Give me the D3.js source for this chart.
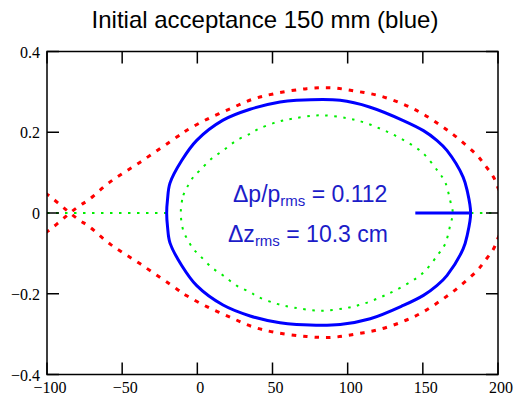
<!DOCTYPE html>
<html>
<head>
<meta charset="utf-8">
<script src="https://cdn.jsdelivr.net/npm/d3@7"></script>
<style>
  body { margin: 0; background: #fff; }
  svg { display: block; }
</style>
</head>
<body>
<script>
// values (z in mm, dp/p)
const xTicks = [-100, -50, 0, 50, 100, 150, 200];
const yTicks = [-0.4, -0.2, 0, 0.2, 0.4];

const blueUpper = [[-20.4, 0], [-19.8, 0.035], [-18.2, 0.074], [-10.4, 0.130], [-0.4, 0.180], [17.1, 0.230], [35.1, 0.257],
  [55, 0.275], [66, 0.279], [95, 0.279], [115, 0.262], [137, 0.229], [150.4, 0.204], [159.3, 0.180],
  [166, 0.155], [176.8, 0.089], [179.7, 0.052], [181.8, 0]];
const blueLower = [[181.8, 0], [179.7, -0.052], [176.8, -0.089], [166, -0.155], [159.3, -0.180], [150.4, -0.204],
  [137, -0.229], [115, -0.262], [95, -0.276], [66, -0.276], [55, -0.272], [35.1, -0.255], [17.1, -0.228],
  [-0.4, -0.180], [-10.4, -0.130], [-18.2, -0.074], [-19.8, -0.035]];
const blueTail = [[145, 0], [181, 0]];

const redUpper = [[-101, -0.049], [-96.9, -0.038], [-90.5, -0.018], [-84.7, 0], [-78, 0.019], [-72.5, 0.032],
  [-58, 0.077], [-38, 0.126], [-13.7, 0.188], [-7, 0.205], [6.3, 0.232], [21.8, 0.258], [36.2, 0.281],
  [50.6, 0.295], [72.8, 0.308], [89.4, 0.310], [105, 0.302], [120.4, 0.291], [136, 0.271], [149.3, 0.247],
  [162.6, 0.215], [173.7, 0.184], [186, 0.143], [191.4, 0.118], [197, 0.089], [200.3, 0.060], [204, 0.030]];
const redLower = [[-101, 0.049], [-96.9, 0.038], [-90.5, 0.018], [-84.7, 0], [-78, -0.019], [-72.5, -0.032],
  [-58, -0.077], [-38, -0.126], [-13.7, -0.188], [-7, -0.205], [6.3, -0.232], [21.8, -0.258], [36.2, -0.281],
  [50.6, -0.295], [72.8, -0.306], [89.4, -0.308], [105, -0.300], [120.4, -0.289], [136, -0.270], [149.3, -0.247],
  [162.6, -0.215], [173.7, -0.184], [186, -0.143], [191.4, -0.118], [197, -0.089], [200.3, -0.060], [204, -0.030]];

const greenUpper = [[-11, 0], [-9.3, 0.044], [-6, 0.069], [-2.7, 0.089], [1.8, 0.106], [9.6, 0.135], [17.3, 0.155],
  [26.2, 0.180], [35, 0.196], [40.6, 0.208], [52.8, 0.225], [63.9, 0.234], [81.6, 0.242], [99.4, 0.235],
  [110.4, 0.225], [121.6, 0.209], [131.5, 0.192], [149.3, 0.151], [160.3, 0.102], [164.8, 0.077],
  [168.1, 0.032], [169.9, 0]];
const greenLower = [[169.9, 0], [168.1, -0.032], [164.8, -0.077], [160.3, -0.102], [149.3, -0.151], [131.5, -0.192],
  [121.6, -0.209], [110.4, -0.225], [99.4, -0.235], [81.6, -0.242], [63.9, -0.234], [52.8, -0.225], [40.6, -0.208],
  [35, -0.196], [26.2, -0.180], [17.3, -0.155], [9.6, -0.135], [1.8, -0.106], [-2.7, -0.089], [-6, -0.069],
  [-9.3, -0.044], [-11, 0]];
const greenLeft = [[-100, 0], [-18, 0]];
const greenRight = [[170, 0], [200, 0]];

const title = "Initial acceptance 150 mm (blue)";

const width = 514, height = 395;
const svg = d3.select("body").append("svg").attr("width", width).attr("height", height);

const x = d3.scaleLinear().domain([-100, 200]).range([47, 498]);
const y = d3.scaleLinear().domain([-0.4, 0.4]).range([374.5, 51.5]);

svg.append("text")
    .attr("x", 265).attr("y", 28)
    .attr("text-anchor", "middle")
    .attr("font-family", "Liberation Sans, Arial, sans-serif")
    .attr("font-size", 24)
    .text(title);

svg.append("defs").append("clipPath").attr("id", "plotClip")
  .append("rect")
    .attr("x", x(-100)).attr("y", y(0.4))
    .attr("width", x(200) - x(-100)).attr("height", y(-0.4) - y(0.4));

const line = d3.line().x(d => x(d[0])).y(d => y(d[1]));
const smooth = d3.line().x(d => x(d[0])).y(d => y(d[1])).curve(d3.curveCatmullRom);
const closed = d3.line().x(d => x(d[0])).y(d => y(d[1])).curve(d3.curveCatmullRomClosed);
const plot = svg.append("g").attr("clip-path", "url(#plotClip)");

// green dotted
[greenLeft, greenRight].forEach(seg => {
  plot.append("path").attr("d", line(seg))
    .attr("fill", "none").attr("stroke", "#00ee00").attr("stroke-width", 2)
    .attr("stroke-dasharray", "2.5 6.5");
});
plot.append("path")
    .attr("d", closed(greenUpper.concat(greenLower.slice(1, -1))))
    .attr("fill", "none").attr("stroke", "#00ee00").attr("stroke-width", 2)
    .attr("stroke-dasharray", "2.5 6.5");

// red dotted
[redUpper, redLower].forEach(seg => {
  plot.append("path").attr("d", smooth(seg))
    .attr("fill", "none").attr("stroke", "#ff0000").attr("stroke-width", 3)
    .attr("stroke-dasharray", "4.5 7");
});

// blue solid
plot.append("path")
    .attr("d", closed(blueUpper.concat(blueLower.slice(1))))
    .attr("fill", "none").attr("stroke", "#0000ff").attr("stroke-width", 3);
plot.append("path").attr("d", line(blueTail))
    .attr("fill", "none").attr("stroke", "#0000ff").attr("stroke-width", 3);

// frame and inside ticks
const tickLen = 12;
const axisG = svg.append("g").attr("stroke", "#000").attr("stroke-width", 1.5);
axisG.append("rect")
    .attr("x", x(-100)).attr("y", y(0.4))
    .attr("width", x(200) - x(-100)).attr("height", y(-0.4) - y(0.4))
    .attr("fill", "none");
xTicks.forEach(t => {
  axisG.append("line").attr("x1", x(t)).attr("x2", x(t)).attr("y1", y(-0.4)).attr("y2", y(-0.4) - tickLen);
  axisG.append("line").attr("x1", x(t)).attr("x2", x(t)).attr("y1", y(0.4)).attr("y2", y(0.4) + tickLen);
});
yTicks.forEach(t => {
  axisG.append("line").attr("x1", x(-100)).attr("x2", x(-100) + tickLen).attr("y1", y(t)).attr("y2", y(t));
  axisG.append("line").attr("x1", x(200)).attr("x2", x(200) - tickLen).attr("y1", y(t)).attr("y2", y(t));
});

const fmt = v => (v < 0 ? "\u2212" : "") + String(Math.abs(v));
svg.append("g").selectAll("text").data(xTicks).join("text")
    .attr("x", d => x(d) + 3).attr("y", 393)
    .attr("text-anchor", "middle")
    .attr("font-family", "Liberation Serif, Times New Roman, serif")
    .attr("font-size", 16)
    .text(fmt);
svg.append("g").selectAll("text").data(yTicks).join("text")
    .attr("x", 40).attr("y", d => y(d) + 6)
    .attr("text-anchor", "end")
    .attr("font-family", "Liberation Serif, Times New Roman, serif")
    .attr("font-size", 16)
    .text(fmt);

// annotation
const note = svg.append("g")
    .attr("font-family", "Liberation Sans, Arial, sans-serif")
    .attr("fill", "#1c1cc8");
const t1 = note.append("text").attr("x", 233).attr("y", 202).attr("font-size", 23);
t1.append("tspan").text("\u0394p/p");
t1.append("tspan").attr("font-size", 15).attr("dy", 4).text("rms");
t1.append("tspan").attr("dy", -4).text(" = 0.112");
const t2 = note.append("text").attr("x", 228).attr("y", 242).attr("font-size", 23);
t2.append("tspan").text("\u0394z");
t2.append("tspan").attr("font-size", 15).attr("dy", 4).text("rms");
t2.append("tspan").attr("dy", -4).text(" = 10.3 cm");
</script>
</body>
</html>
